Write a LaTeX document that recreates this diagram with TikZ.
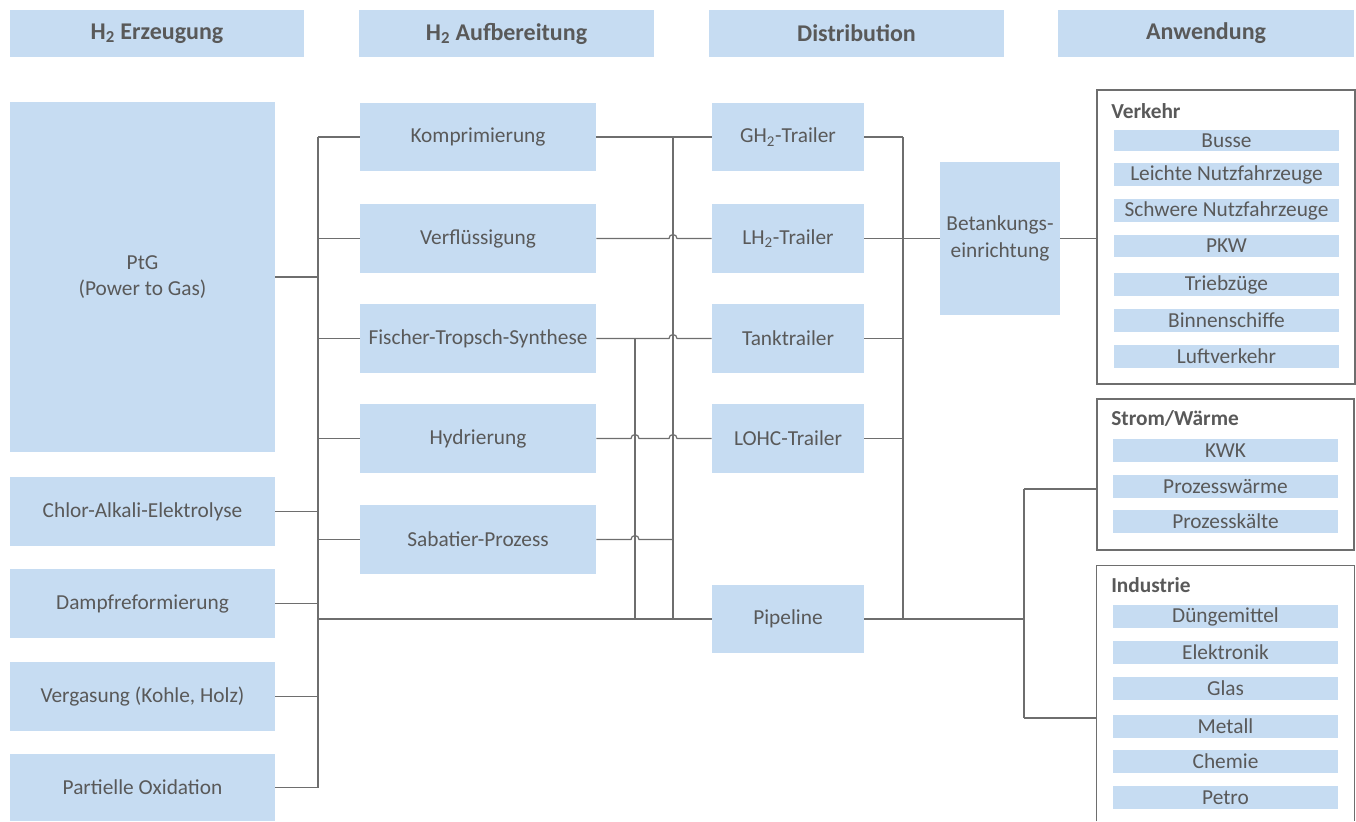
\documentclass[tikz,border=0pt]{standalone}
\usepackage{fontspec}
\setmainfont{Carlito}
\usetikzlibrary{calc}
\definecolor{boxblue}{HTML}{C6DCF2}
\definecolor{txt}{HTML}{595959}
\definecolor{ln}{HTML}{6E6E6E}
\newcommand\bx[7][]{\node[box,#1,minimum width={(#5-#3)*0.75pt},minimum height={(#6-#4)*0.75pt}] (#2) at ({(#3+#5)/2},{(#4+#6)/2}) {#7};}
\begin{document}
\begin{tikzpicture}[x=0.75pt,y=-0.75pt,
  box/.style={fill=boxblue,draw=none,text=txt,align=center,inner sep=0pt,font=\fontsize{16}{20}\selectfont},
  hdr/.style={font=\bfseries\fontsize{18}{22}\selectfont},
  pnl/.style={fill=none,draw=ln,line width=0.9pt},
  pnlopen/.style={fill=none,draw=none},
  ttl/.style={anchor=west,text=txt,inner sep=0pt,font=\bfseries\fontsize{16}{20}\selectfont},
  conn/.style={draw=ln,line width=0.9pt}]
\useasboundingbox (0,0) rectangle (1356,821);
% headers
\bx[hdr]{h1}{10}{10}{304}{57}{H\textsubscript{2} Erzeugung}
\bx[hdr]{h2}{359}{10}{654}{57}{H\textsubscript{2} Aufbereitung}
\bx[hdr]{h3}{709}{10}{1004}{57}{Distribution}
\bx[hdr]{h4}{1058}{10}{1354}{57}{Anwendung}
% column 1
\bx{ptg}{10}{102}{275}{452}{PtG\\(Power to Gas)}
\bx{chl}{10}{477}{275}{546}{Chlor-Alkali-Elektrolyse}
\bx{dmp}{10}{569}{275}{638}{Dampfreformierung}
\bx{vrg}{10}{662}{275}{731}{Vergasung (Kohle, Holz)}
\bx{pox}{10}{754}{275}{821}{Partielle Oxidation}
% column 2
\bx{kom}{360}{103}{596}{171}{Komprimierung}
\bx{ver}{360}{204}{596}{273}{Verflüssigung}
\bx{fts}{360}{304}{596}{373}{Fischer-Tropsch-Synthese}
\bx{hyd}{360}{404}{596}{473}{Hydrierung}
\bx{sab}{360}{505}{596}{574}{Sabatier-Prozess}
% column 3
\bx{gh2}{712}{103}{864}{171}{GH\textsubscript{2}-Trailer}
\bx{lh2}{712}{204}{864}{273}{LH\textsubscript{2}-Trailer}
\bx{tank}{712}{304}{864}{373}{Tanktrailer}
\bx{lohc}{712}{404}{864}{473}{LOHC-Trailer}
\bx{pipe}{712}{585}{864}{653}{Pipeline}
\bx{bet}{940}{162}{1060}{315}{Betankungs-\\einrichtung}
% panels
\bx[pnl]{verk}{1097}{90}{1355}{384}{}
\node[ttl] (tverk) at (1111,111) {Verkehr};
\bx{v1}{1114}{130}{1339}{151}{Busse}
\bx{v2}{1114}{163}{1339}{186}{Leichte Nutzfahrzeuge}
\bx{v3}{1114}{199}{1339}{222}{Schwere Nutzfahrzeuge}
\bx{v4}{1114}{235}{1339}{257}{PKW}
\bx{v5}{1114}{273}{1339}{296}{Triebzüge}
\bx{v6}{1114}{309}{1339}{332}{Binnenschiffe}
\bx{v7}{1114}{345}{1339}{368}{Luftverkehr}
\bx[pnl]{strom}{1097}{399}{1354}{550}{}
\node[ttl] (tstrom) at (1111,418) {Strom/Wärme};
\bx{s1}{1113}{439}{1338}{462}{KWK}
\bx{s2}{1113}{475}{1338}{498}{Prozesswärme}
\bx{s3}{1113}{510}{1338}{533}{Prozesskälte}
\bx[pnlopen]{ind}{1097}{566}{1354}{821}{}
\draw[pnl] (ind.south west) -- (ind.north west) -- (ind.north east) -- (ind.south east);
\node[ttl] (tind) at (1111,585) {Industrie};
\bx{i1}{1113}{605}{1338}{628}{Düngemittel}
\bx{i2}{1113}{641}{1338}{664}{Elektronik}
\bx{i3}{1113}{677}{1338}{700}{Glas}
\bx{i4}{1113}{715}{1338}{738}{Metall}
\bx{i5}{1113}{750}{1338}{773}{Chemie}
\bx{i6}{1113}{786}{1338}{809}{Petro}
% junction coordinates
\coordinate (vL) at (318,0);
\coordinate (vA) at (635,0);
\coordinate (vB) at (673,0);
\coordinate (vD) at (903,0);
\coordinate (vI) at (1024,0);
\coordinate (sIn) at (1097,489);
\coordinate (iIn) at (1097,718);
% left connectors
\foreach \n in {ptg,chl,dmp,vrg,pox} \draw[conn] (\n.east) -- (vL |- \n.east);
\foreach \n in {kom,ver,fts,hyd,sab} \draw[conn] (vL |- \n.west) -- (\n.west);
\draw[conn] (vL |- kom.west) -- (vL |- pox.east);
\draw[conn] (vL |- pipe.west) -- (pipe.west);
% middle connectors
\draw[conn] (kom.east) -- (gh2.west);
\draw[conn] (vB |- kom.east) -- (vB |- pipe.west);
\draw[conn] (vA |- fts.east) -- (vA |- pipe.west);
\draw[conn] (ver.east) -- ($(vB |- ver.east)+(-4,0)$) arc[start angle=180,end angle=0,radius=3pt] -- (lh2.west);
\draw[conn] (fts.east) -- ($(vB |- fts.east)+(-4,0)$) arc[start angle=180,end angle=0,radius=3pt] -- (tank.west);
\draw[conn] (hyd.east) -- ($(vA |- hyd.east)+(-4,0)$) arc[start angle=180,end angle=0,radius=3pt]
  -- ($(vB |- hyd.east)+(-4,0)$) arc[start angle=180,end angle=0,radius=3pt] -- (lohc.west);
\draw[conn] (sab.east) -- ($(vA |- sab.east)+(-4,0)$) arc[start angle=180,end angle=0,radius=3pt] -- (vB |- sab.east);
% right connectors
\foreach \n in {gh2,lh2,tank,lohc} \draw[conn] (\n.east) -- (vD |- \n.east);
\draw[conn] (vD |- gh2.east) -- (vD |- pipe.east);
\draw[conn] (vD |- bet.west) -- (bet.west);
\draw[conn] (bet.east) -- (verk.west |- bet.east);
\draw[conn] (pipe.east) -- (vI |- pipe.east);
\draw[conn] (vI |- sIn) -- (vI |- iIn);
\draw[conn] (vI |- sIn) -- (sIn);
\draw[conn] (vI |- iIn) -- (iIn);
\end{tikzpicture}
\end{document}
